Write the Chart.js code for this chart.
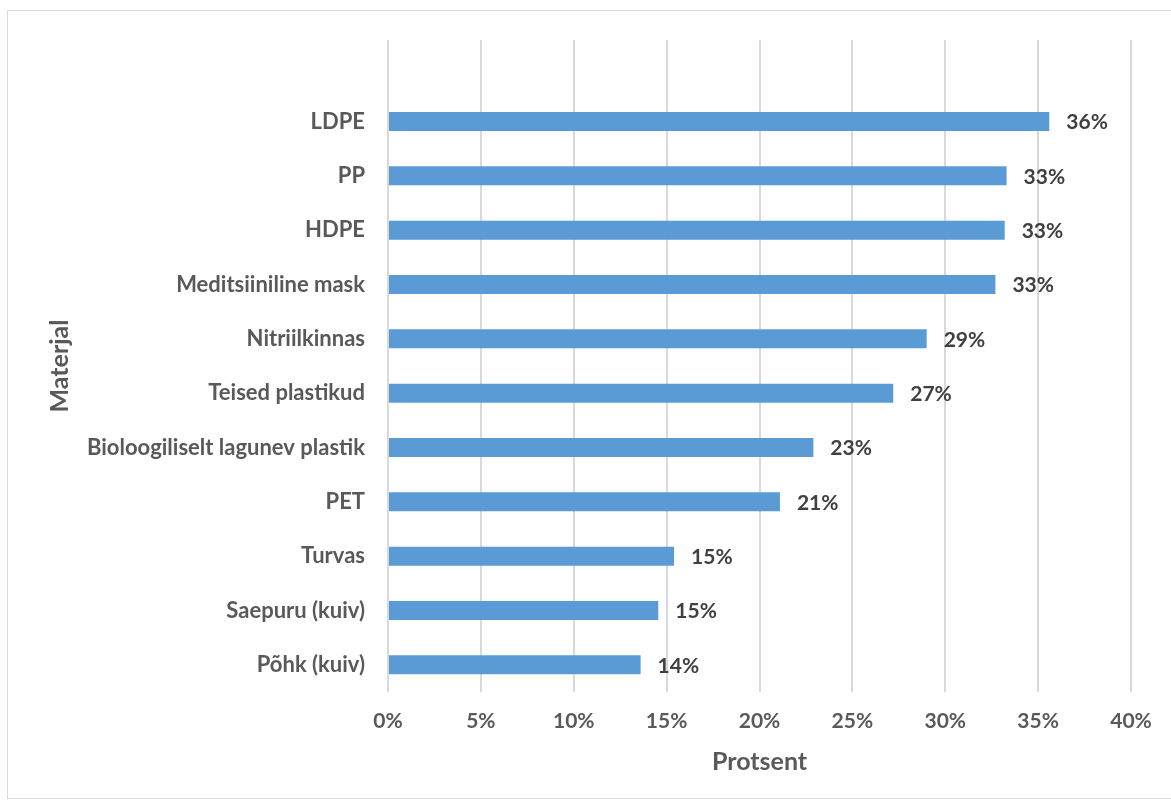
<!DOCTYPE html>
<html>
<head>
<meta charset="utf-8">
<script src="https://cdn.jsdelivr.net/npm/chart.js@4.4.0/dist/chart.umd.min.js"></script>
<style>
  html, body { margin: 0; padding: 0; background: #fff; }
  #wrap { position: relative; width: 1171px; height: 802px; }
  #frame { position: absolute; left: 7px; top: 10px; width: 1170px; height: 789px; border: 1px solid #d9d9d9; box-sizing: border-box; pointer-events: none; }
  canvas { position: absolute; left: 0; top: 0; }
</style>
</head>
<body>
<div id="wrap">
  <canvas id="c" width="1171" height="802"></canvas>
  <div id="frame"></div>
</div>
<script>
const categories = ["", "LDPE", "PP", "HDPE", "Meditsiiniline mask", "Nitriilkinnas", "Teised plastikud", "Bioloogiliselt lagunev plastik", "PET", "Turvas", "Saepuru (kuiv)", "Põhk (kuiv)"];
const values = [null, 35.6, 33.3, 33.2, 32.7, 29.0, 27.2, 22.9, 21.1, 15.4, 14.55, 13.6];
const tickValues = [0, 5, 10, 15, 20, 25, 30, 35, 40];
const axisTitleX = "Protsent";
const axisTitleY = "Materjal";

const FONT = "Lato, 'Open Sans', sans-serif";

const dataLabels = {
  id: 'dataLabels',
  afterDatasetsDraw(chart) {
    const ctx = chart.ctx;
    const meta = chart.getDatasetMeta(0);
    ctx.save();
    ctx.font = "bold 21px " + FONT;
    ctx.fillStyle = "#404040";
    ctx.textAlign = "left";
    ctx.textBaseline = "middle";
    meta.data.forEach((bar, i) => {
      const v = values[i];
      if (v === null) return;
      ctx.fillText(Math.round(v) + "%", bar.x + 17, bar.y + 1);
    });
    ctx.restore();
  }
};

new Chart(document.getElementById('c'), {
  type: 'bar',
  data: {
    labels: categories,
    datasets: [{
      data: values,
      backgroundColor: '#5b9bd5',
      borderColor: '#5b9bd5',
      borderWidth: 0,
      barPercentage: 0.35,
      categoryPercentage: 1.0
    }]
  },
  options: {
    indexAxis: 'y',
    responsive: false,
    animation: false,
    devicePixelRatio: 1,
    layout: { padding: { top: 40, right: 40, bottom: 0, left: 0 } },
    plugins: { legend: { display: false }, tooltip: { enabled: false } },
    scales: {
      x: {
        min: 0, max: 40,
        afterFit(s) { s.height = 110; },
        afterBuildTicks(s) { s.ticks = tickValues.map(v => ({ value: v })); },
        grid: { color: '#d9d9d9', lineWidth: 2, drawTicks: false },
        border: { display: false },
        ticks: {
          padding: 17,
          color: '#595959',
          font: { family: FONT, size: 21, weight: 'bold' },
          callback: v => v + '%'
        },
        title: {
          display: true, text: axisTitleX, color: '#595959',
          font: { family: FONT, size: 25, weight: 'bold' },
          padding: { top: 0, bottom: 25 }
        }
      },
      y: {
        afterFit(s) { s.width = 388; },
        grid: { display: false, drawTicks: false },
        border: { display: false },
        ticks: {
          padding: 23,
          color: '#595959',
          font: { family: FONT, size: 22, weight: 'bold' }
        },
        title: {
          display: true, text: axisTitleY, color: '#595959',
          font: { family: FONT, size: 25, weight: 'bold' },
          padding: { top: 45, bottom: 0 }
        }
      }
    }
  },
  plugins: [dataLabels]
});
</script>
</body>
</html>
